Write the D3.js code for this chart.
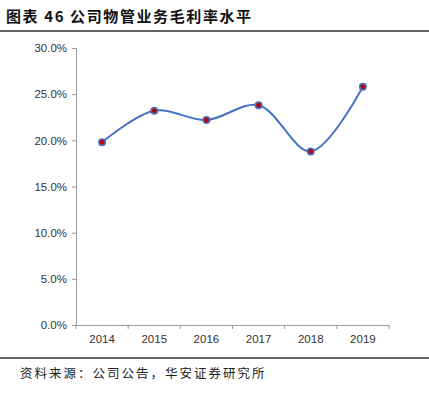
<!DOCTYPE html>
<html>
<head>
<meta charset="utf-8">
<script src="https://cdn.jsdelivr.net/npm/d3@7"></script>
<style>
  body { margin: 0; background: #fff; }
  svg { display: block; }
</style>
</head>
<body>
<div id="chart"></div>
<script>
const years = ["2014", "2015", "2016", "2017", "2018", "2019"];
const margins = [19.8, 23.2, 22.2, 23.8, 18.8, 25.8];
const yTicks = [0, 5, 10, 15, 20, 25, 30];

const W = 429, H = 394;
const plotLeft = 76, plotRight = 389, plotTop = 48, plotBottom = 325;

const svg = d3.select("#chart").append("svg")
  .attr("width", W)
  .attr("height", H);

// title + rules
svg.append("text")
  .attr("x", 6).attr("y", 22)
  .style("font-family", "'Noto Sans CJK SC', sans-serif")
  .style("font-size", "15px")
  .style("font-weight", "bold")
  .style("letter-spacing", "1.6px")
  .style("fill", "#111")
  .text("图表 46  公司物管业务毛利率水平");

svg.append("line")
  .attr("x1", 0).attr("x2", W).attr("y1", 31).attr("y2", 31)
  .attr("stroke", "#333").attr("stroke-width", 1.3);

svg.append("line")
  .attr("x1", 0).attr("x2", W).attr("y1", 358).attr("y2", 358)
  .attr("stroke", "#333").attr("stroke-width", 1.3);

svg.append("text")
  .attr("x", 20).attr("y", 378)
  .style("font-family", "'Noto Sans CJK SC', sans-serif")
  .style("font-size", "12.5px")
  .style("letter-spacing", "2px")
  .style("fill", "#222")
  .text("资料来源：公司公告，华安证券研究所");

const x = d3.scaleBand().domain(years).range([plotLeft, plotRight]);
const y = d3.scaleLinear().domain([0, 30]).range([plotBottom, plotTop]);

// y axis
const yAxis = svg.append("g")
  .attr("transform", `translate(${plotLeft},0)`)
  .call(d3.axisLeft(y).tickValues(yTicks).tickSize(4).tickPadding(5)
    .tickFormat(d => d.toFixed(1) + "%"));
yAxis.select(".domain").attr("stroke", "#9a9a9a");
yAxis.selectAll(".tick line").attr("stroke", "#9a9a9a");
yAxis.selectAll("text")
  .style("font-family", "'Liberation Sans', Arial, sans-serif")
  .style("font-size", "11.5px")
  .style("fill", "#333");

// x axis
const xAxis = svg.append("g")
  .attr("transform", `translate(0,${plotBottom})`)
  .call(d3.axisBottom(x).tickSize(0).tickPadding(10).tickSizeOuter(0));
xAxis.select(".domain").attr("stroke", "#9a9a9a");
xAxis.selectAll("text")
  .style("font-family", "'Liberation Sans', Arial, sans-serif")
  .style("font-size", "11.5px")
  .style("fill", "#333");
// ticks at band edges
const edges = years.map(d => x(d)).concat([x(years[years.length - 1]) + x.bandwidth()]);
xAxis.selectAll(".edge")
  .data(edges)
  .join("line")
  .attr("class", "edge")
  .attr("x1", d => d).attr("x2", d => d)
  .attr("y1", 0).attr("y2", 4)
  .attr("stroke", "#9a9a9a");

// line
const cx = d => x(d) + x.bandwidth() / 2;
const line = d3.line()
  .x((d, i) => cx(years[i]))
  .y(d => y(d))
  .curve(d3.curveCatmullRom.alpha(0.5));

svg.append("path")
  .datum(margins)
  .attr("d", line)
  .attr("fill", "none")
  .attr("stroke", "#4472c4")
  .attr("stroke-width", 2);

svg.selectAll(".pt")
  .data(margins)
  .join("circle")
  .attr("class", "pt")
  .attr("cx", (d, i) => cx(years[i]))
  .attr("cy", d => y(d))
  .attr("r", 3.2)
  .attr("fill", "#c00000")
  .attr("stroke", "#4472c4")
  .attr("stroke-width", 1.6);
</script>
</body>
</html>
